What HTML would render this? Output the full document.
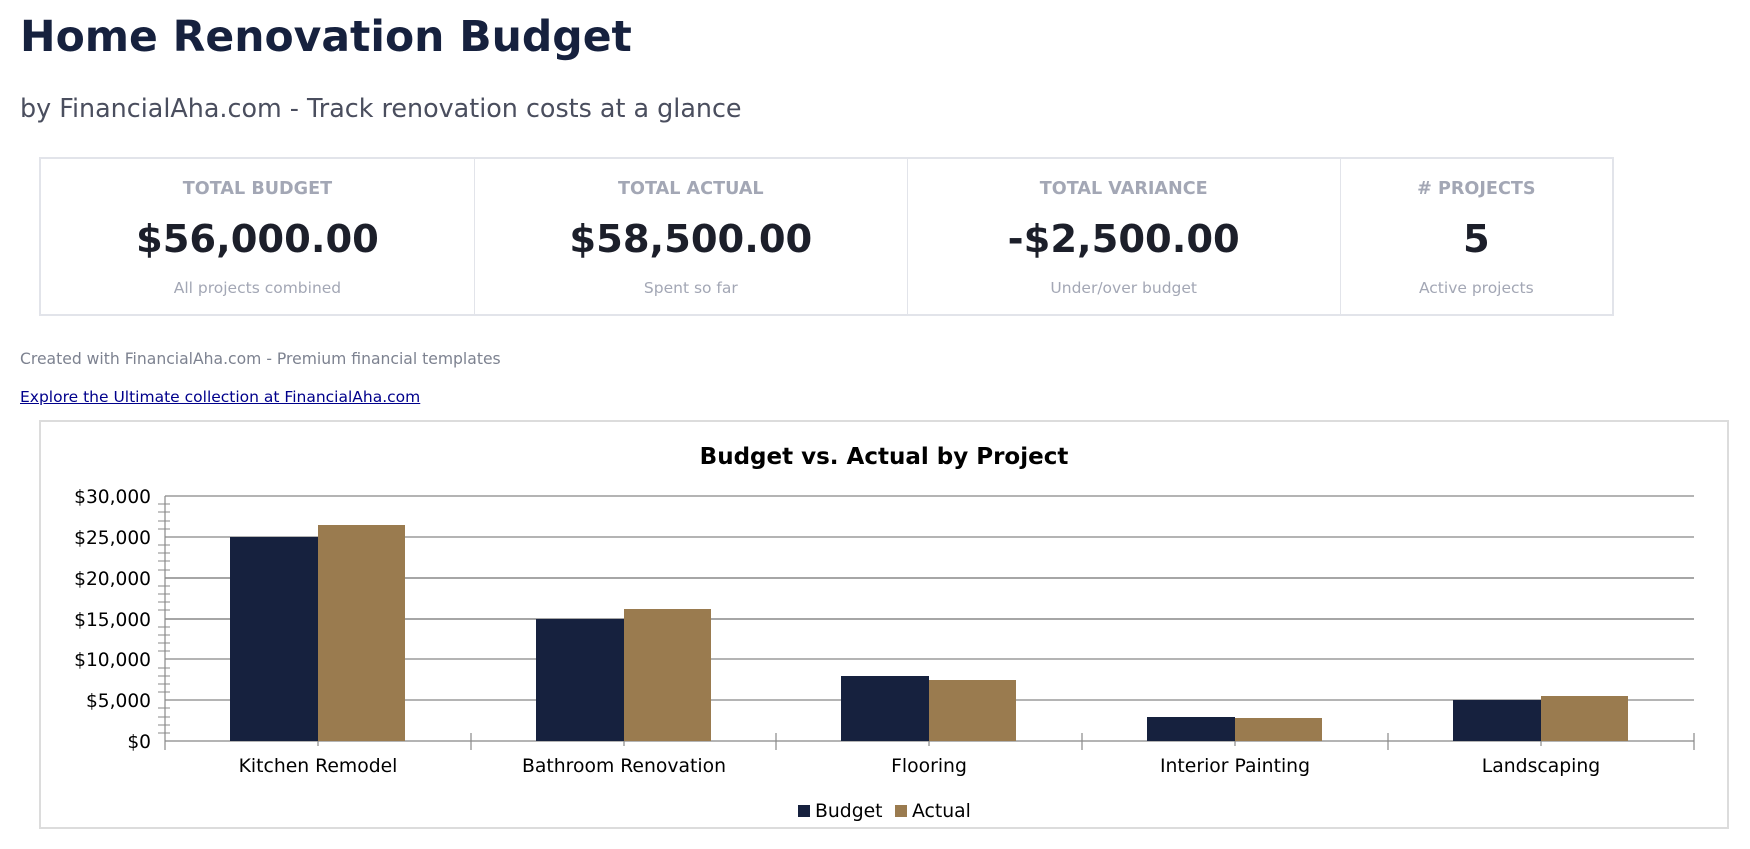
<!DOCTYPE html>
<html><head><meta charset="utf-8"><style>
body{margin:0;background:#fff;font-family:"DejaVu Sans","Liberation Sans",sans-serif;width:1750px;height:849px;overflow:hidden;position:relative}
.a{position:absolute;white-space:nowrap}
h1{position:absolute;left:20px;top:13px;margin:0;font-size:42.5px;font-weight:bold;color:#16213e}
.sub{left:20px;top:93px;font-size:25.4px;color:#4a4e5e}
.kpi{position:absolute;left:39px;top:157px;width:1575px;height:159px;border:2px solid #e2e4ea;box-sizing:border-box;display:flex}
.c{text-align:center;border-right:1px solid #e2e4ea;box-sizing:border-box;position:relative}
.c:last-child{border-right:none}
.l{position:absolute;left:0;right:0;top:20px;font-size:17.6px;font-weight:bold;color:#a3a7b5}
.v{position:absolute;left:0;right:0;top:58px;font-size:38.4px;font-weight:bold;color:#1c1f2a}
.s{position:absolute;left:0;right:0;top:120px;font-size:15.5px;color:#a3a7b5}
.f{left:20px;top:350px;font-size:15.6px;color:#7d8290}
.lk{left:20px;top:388px;font-size:15.5px;color:#00008b;text-decoration:underline}
.ch{position:absolute;left:39px;top:420px;width:1690px;height:409px;border:2px solid #dcdcdc;box-sizing:border-box}
</style></head><body>
<h1>Home Renovation Budget</h1>
<div class="a sub">by FinancialAha.com - Track renovation costs at a glance</div>
<div class="kpi">
<div class="c" style="width:435px"><div class="l">TOTAL BUDGET</div><div class="v">$56,000.00</div><div class="s">All projects combined</div></div>
<div class="c" style="width:434px"><div class="l">TOTAL ACTUAL</div><div class="v">$58,500.00</div><div class="s">Spent so far</div></div>
<div class="c" style="width:434px"><div class="l">TOTAL VARIANCE</div><div class="v">-$2,500.00</div><div class="s">Under/over budget</div></div>
<div class="c" style="width:272px"><div class="l"># PROJECTS</div><div class="v">5</div><div class="s">Active projects</div></div>
</div>
<div class="a f">Created with FinancialAha.com - Premium financial templates</div>
<div class="a lk">Explore the Ultimate collection at FinancialAha.com</div>
<div class="ch"></div>
<svg class="a" style="left:0;top:0" width="1750" height="849" font-family="DejaVu Sans, Liberation Sans, sans-serif">
<text x="884" y="464" font-size="23" font-weight="bold" text-anchor="middle" fill="#000">Budget vs. Actual by Project</text>
<g stroke="#888" stroke-width="1.2">
<line x1="165" y1="496" x2="1694" y2="496"/><line x1="165" y1="537" x2="1694" y2="537"/>
<line x1="165" y1="578" x2="1694" y2="578" stroke-width="1.6"/><line x1="165" y1="619" x2="1694" y2="619" stroke-width="1.6"/>
<line x1="165" y1="659" x2="1694" y2="659"/><line x1="165" y1="700" x2="1694" y2="700"/>
<line x1="165" y1="741" x2="1694" y2="741"/>
<line x1="165" y1="496" x2="165" y2="750"/>
<line x1="471" y1="733" x2="471" y2="750"/><line x1="776" y1="733" x2="776" y2="750"/><line x1="1082" y1="733" x2="1082" y2="750"/><line x1="1388" y1="733" x2="1388" y2="750"/><line x1="1694" y1="733" x2="1694" y2="750"/>
<line x1="318" y1="741" x2="318" y2="746"/><line x1="624" y1="741" x2="624" y2="746"/><line x1="929" y1="741" x2="929" y2="746"/><line x1="1235" y1="741" x2="1235" y2="746"/><line x1="1541" y1="741" x2="1541" y2="746"/>
</g>
<g stroke="#888" stroke-width="1">
<path d="M158 504h12M158 512h12M158 521h12M158 529h12M158 545h12M158 553h12M158 561h12M158 570h12M158 586h12M158 594h12M158 602h12M158 610h12M158 627h12M158 635h12M158 643h12M158 651h12M158 668h12M158 676h12M158 684h12M158 692h12M158 708h12M158 717h12M158 725h12M158 733h12"/>
</g>
<g fill="#16213e">
<rect x="230" y="537" width="88" height="204"/><rect x="536" y="619" width="88" height="122"/><rect x="841" y="676" width="88" height="65"/><rect x="1147" y="717" width="88" height="24"/><rect x="1453" y="700" width="88" height="41"/>
</g>
<g fill="#9a7b4f">
<rect x="318" y="525" width="87" height="216"/><rect x="624" y="609" width="87" height="132"/><rect x="929" y="680" width="87" height="61"/><rect x="1235" y="718" width="87" height="23"/><rect x="1541" y="696" width="87" height="45"/>
</g>
<g font-size="18.6" text-anchor="end" fill="#000">
<text x="151" y="503">$30,000</text><text x="151" y="544">$25,000</text><text x="151" y="585">$20,000</text><text x="151" y="626">$15,000</text><text x="151" y="666">$10,000</text><text x="151" y="707">$5,000</text><text x="151" y="748">$0</text>
</g>
<g font-size="18.8" text-anchor="middle" fill="#000">
<text x="318" y="772">Kitchen Remodel</text><text x="624" y="772">Bathroom Renovation</text><text x="929" y="772">Flooring</text><text x="1235" y="772">Interior Painting</text><text x="1541" y="772">Landscaping</text>
</g>
<rect x="798" y="805" width="12" height="12" fill="#16213e"/><text x="815" y="817" font-size="18.8">Budget</text>
<rect x="895" y="805" width="12" height="12" fill="#9a7b4f"/><text x="912" y="817" font-size="18.8">Actual</text>
</svg>
</body></html>
